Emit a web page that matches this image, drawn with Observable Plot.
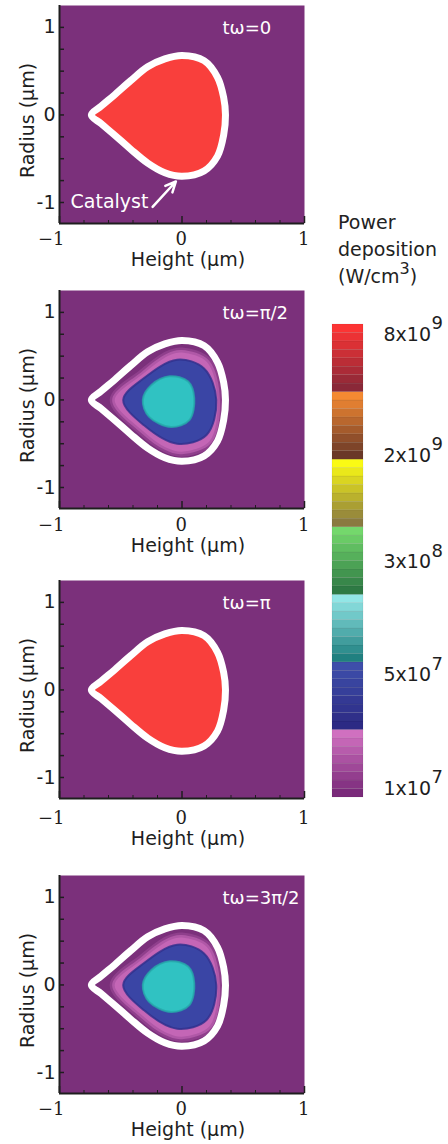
<!DOCTYPE html>
<html>
<head>
<meta charset="utf-8">
<script src="https://cdn.jsdelivr.net/npm/d3@7"></script>
<script src="https://cdn.jsdelivr.net/npm/@observablehq/plot@0.6"></script>
<style>
html,body{margin:0;padding:0;background:#fff;}
#root{position:relative;width:448px;height:1144px;overflow:hidden;}
.abs{position:absolute;}
#cbtitle{left:338px;top:209px;font-family:"DejaVu Sans",sans-serif;font-size:19px;line-height:27px;color:#222;white-space:nowrap;}
#cbtitle sup{font-size:16px;line-height:0;position:relative;top:-2px;}
</style>
</head>
<body>
<div id="root">
  <div id="cbtitle" class="abs">Power<br>deposition<br>(W/cm<sup>3</sup>)</div>
</div>
<script>
// ---------------- DATA ----------------
const panelLabels = ["tω=0", "tω=π/2", "tω=π", "tω=3π/2"];
const panelKinds  = ["catalyst", "ring", "catalyst", "ring"];

// catalyst boundary (Height, Radius) in µm
const catalystOutline = [
  [-0.74, 0.00], [-0.66, 0.10], [-0.55, 0.23], [-0.42, 0.39], [-0.28, 0.55], [-0.14, 0.64],
  [0.00, 0.68], [0.18, 0.62], [0.29, 0.43], [0.34, 0.20], [0.355, 0.00],
  [0.34, -0.23], [0.29, -0.47], [0.18, -0.64], [0.00, -0.70], [-0.14, -0.66],
  [-0.28, -0.55], [-0.42, -0.39], [-0.55, -0.23], [-0.66, -0.10]
];
// contour 1e7 (pink)
const contourPink = [
  [-0.57, 0.00], [-0.33, 0.32], [-0.12, 0.53], [0.00, 0.57], [0.22, 0.45],
  [0.31, 0.00], [0.24, -0.49], [0.00, -0.62], [-0.14, -0.57], [-0.33, -0.38]
];
// contour 5e7 (blue)
const contourBlue = [
  [-0.48, 0.00], [-0.31, 0.25], [-0.04, 0.46], [0.18, 0.36], [0.28, 0.00],
  [0.20, -0.40], [-0.04, -0.50], [-0.31, -0.29]
];
// contour 3e8 (cyan)
const contourCyan = [
  [-0.32, 0.00], [-0.25, 0.17], [-0.10, 0.27], [0.05, 0.21], [0.10, 0.02],
  [0.06, -0.23], [-0.09, -0.31], [-0.27, -0.19]
];
const catalystArrow = [{x1: -0.24, y1: -1.05, x2: -0.05, y2: -0.76}];

const xTicks = [-1, 0, 1];
const xTickLabels = ["\u22121", "0", "1"];
const xMinorTicks = [-0.8, -0.6, -0.4, -0.2, 0.2, 0.4, 0.6, 0.8];
const yTicks = [-1, 0, 1];
const yTickLabels = ["-1", "0", "1"];
const yMinorTicks = [-0.75, -0.5, -0.25, 0.25, 0.5, 0.75];

// colour bar
const cbLabels = ["1x10", "5x10", "3x10", "2x10", "8x10"];
const cbExponents = ["7", "7", "8", "9", "9"];
const cbLabelLevels = [0.13, 1.81, 3.48, 5.06, 6.85];
// bands bottom -> top: [colour at band bottom, colour at band top]
const cbBandBottom = ["#7a2a7a", "#2c2a84", "#208080", "#2e7a44", "#8a7a40", "#6a3828", "#8a2838"];
const cbBandTop    = ["#d070c0", "#3e4eaa", "#92e6e6", "#74d86c", "#fafa14", "#f48a32", "#fc3434"];

// ---------------- STYLE / LAYOUT ----------------
const C = {
  bg: "#7b307b", red: "#f93f3c", pink: "#c466b6", pinkEdge: "#a04c9a",
  blue: "#3a45a5", blueEdge: "#30308c", cyan: "#30c2c2", cyanEdge: "#26aaaa",
  ink: "#1e1e1e"
};
const L = {
  width: 320, mLeft: 59, mRight: 16, mTop: 5, mBottom: 60, plotH: 218,
  svgTops: [0, 285, 575, 870], axisShift: [0, 1, 4, 0]
};
const plotW = L.width - L.mLeft - L.mRight;
const xDomain = [-1, 1];
const yDomain = [-1.24, 1.25];
const xy = {x: d => d[0], y: d => d[1], curve: "catmull-rom-closed"};

function panel(i) {
  const kind = panelKinds[i];
  const s = L.axisShift[i];
  const marks = [Plot.frame({fill: C.bg, stroke: null})];
  if (kind === "catalyst") {
    marks.push(Plot.line(catalystOutline, {...xy, fill: C.red, stroke: "white", strokeWidth: 7}));
  } else {
    marks.push(
      Plot.line(contourPink, {...xy, fill: C.pink, stroke: C.pinkEdge, strokeWidth: 5, strokeOpacity: 0.55}),
      Plot.line(contourBlue, {...xy, fill: C.blue, stroke: C.blueEdge, strokeWidth: 2, strokeOpacity: 0.8}),
      Plot.line(contourCyan, {...xy, fill: C.cyan, stroke: C.cyanEdge, strokeWidth: 2, strokeOpacity: 0.8}),
      Plot.line(catalystOutline, {...xy, fill: "none", stroke: "white", strokeWidth: 7})
    );
  }
  marks.push(
    // inward ticks
    Plot.tickX(xMinorTicks, {x: d => d, stroke: C.ink, insetTop: L.plotH - 3}),
    Plot.tickX(xTicks, {x: d => d, stroke: C.ink, strokeWidth: 1.5, insetTop: L.plotH - 7}),
    Plot.tickY(yTicks.concat(yMinorTicks), {y: d => d, stroke: C.ink, strokeWidth: 1.5, insetRight: plotW - 5}),
    // axis lines
    Plot.ruleX([xDomain[0]], {stroke: C.ink, strokeWidth: 2}),
    Plot.ruleY([yDomain[0]], {stroke: C.ink, strokeWidth: 2}),
    // tick labels
    Plot.text(xTicks, {x: d => d, text: (d, j) => xTickLabels[j], frameAnchor: "bottom", dy: 16 + s, dx: 5,
      textAnchor: "end", lineAnchor: "middle", fontFamily: "DejaVu Serif", fontSize: 18, fill: C.ink}),
    Plot.text(yTicks, {y: d => d, text: (d, j) => yTickLabels[j], frameAnchor: "left", dx: -4,
      textAnchor: "end", lineAnchor: "middle", fontSize: 19, fill: C.ink}),
    // axis titles
    Plot.text(["Height (μm)"], {text: d => d, frameAnchor: "bottom", dy: 36 + s, dx: 6,
      textAnchor: "middle", lineAnchor: "middle", fontSize: 19, fill: C.ink}),
    Plot.text(["Radius (μm)"], {text: d => d, frameAnchor: "left", dx: -32, dy: 6, rotate: -90,
      textAnchor: "middle", lineAnchor: "middle", fontSize: 19, fill: C.ink}),
    // phase label
    Plot.text([panelLabels[i]], {text: d => d, frameAnchor: "top-left", dx: 163, dy: 23,
      textAnchor: "start", lineAnchor: "middle", fontSize: 18, fill: "white"})
  );
  if (i === 0) {
    marks.push(
      Plot.text(["Catalyst"], {text: d => d, frameAnchor: "bottom-left", dx: 50, dy: -22,
        textAnchor: "middle", lineAnchor: "middle", fontSize: 19, fill: "white"}),
      Plot.arrow(catalystArrow, {x1: "x1", y1: "y1", x2: "x2", y2: "y2", stroke: "white", strokeWidth: 2.5, headLength: 10, headAngle: 50})
    );
  }
  return Plot.plot({
    width: L.width, height: L.mTop + L.plotH + L.mBottom,
    marginLeft: L.mLeft, marginRight: L.mRight, marginTop: L.mTop, marginBottom: L.mBottom,
    x: {domain: xDomain, axis: null},
    y: {domain: yDomain, axis: null},
    style: {fontFamily: "DejaVu Sans", background: "transparent", overflow: "visible"},
    marks
  });
}

const root = document.getElementById("root");
panelLabels.forEach((_, i) => {
  const el = panel(i);
  el.classList.add("abs");
  el.style.left = "0px";
  el.style.top = L.svgTops[i] + "px";
  root.appendChild(el);
});

// colour bar
const SUB = 8;
const cbCells = [];
cbBandBottom.forEach((b, i) => {
  const interp = d3.interpolateRgb(b, cbBandTop[i]);
  for (let j = 0; j < SUB; j++) {
    cbCells.push({y1: i + j / SUB, y2: i + (j + 1) / SUB, color: interp(j / (SUB - 1))});
  }
});
const cb = Plot.plot({
  width: 128, height: 500,
  marginLeft: 12, marginRight: 85, marginTop: 14, marginBottom: 13,
  x: {domain: [0, 1], axis: null},
  y: {domain: [0, 7], axis: null},
  color: {type: "identity"},
  style: {fontFamily: "DejaVu Sans", background: "transparent", overflow: "visible"},
  marks: [
    Plot.rect(cbCells, {x1: 0, x2: 1, y1: "y1", y2: "y2", fill: "color", stroke: "#000", strokeOpacity: 0.1, strokeWidth: 0.6}),
    Plot.text(cbLabels, {x: 1, y: (d, i) => cbLabelLevels[i], text: d => d, dx: 20, textAnchor: "start", fontSize: 19, fill: C.ink}),
    Plot.text(cbExponents, {x: 1, y: (d, i) => cbLabelLevels[i], text: d => d, dx: 68, dy: -11, textAnchor: "start", fontSize: 18, fill: C.ink})
  ]
});
cb.classList.add("abs");
cb.style.left = "320px";
cb.style.top = "310px";
root.appendChild(cb);
</script>
</body>
</html>
